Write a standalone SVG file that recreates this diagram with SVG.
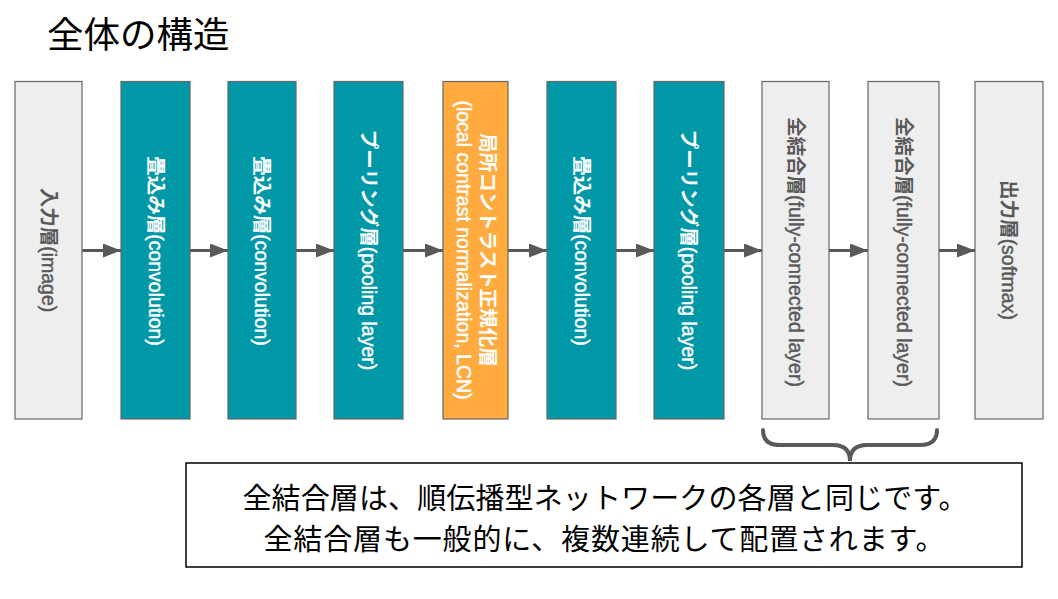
<svg xmlns="http://www.w3.org/2000/svg" width="1058" height="599" viewBox="0 0 1058 599">
<style>
.box{stroke:#666666;stroke-width:1.2}
.teal{fill:#0097A7}
.gray{fill:#EEEEEE}
.orange{fill:#FFAB40}
.lbl{font-family:"Liberation Sans","Noto Sans CJK JP",sans-serif;font-size:19.5px;text-anchor:middle;dominant-baseline:central;stroke-width:0.45}
.lbl .j{font-weight:bold;stroke:none}
.w{fill:#FFFFFF;stroke:#FFFFFF}
.g{fill:#595959;stroke:#595959}
.conn{stroke:#595959;stroke-width:3;fill:none}
.title{font-family:"Noto Sans CJK JP","Liberation Sans",sans-serif;font-size:36.5px;fill:#000000}
.note{font-family:"Noto Sans CJK JP","Liberation Sans",sans-serif;font-size:29px;fill:#000000;text-anchor:middle}
</style>
<defs>
<marker id="ah" markerUnits="userSpaceOnUse" markerWidth="20" markerHeight="16" refX="18" refY="7" orient="auto">
<path d="M0,0 L18,7 L0,14 Z" fill="#595959"/>
</marker>
</defs>
<rect width="1058" height="599" fill="#FFFFFF"/>
<text class="title" x="47" y="48">全体の構造</text>

<g id="connectors">
<line class="conn" x1="82" y1="250.5" x2="121" y2="250.5" marker-end="url(#ah)"/>
<line class="conn" x1="190" y1="250.5" x2="228" y2="250.5" marker-end="url(#ah)"/>
<line class="conn" x1="296" y1="250.5" x2="334" y2="250.5" marker-end="url(#ah)"/>
<line class="conn" x1="403" y1="250.5" x2="443" y2="250.5" marker-end="url(#ah)"/>
<line class="conn" x1="508" y1="250.5" x2="547" y2="250.5" marker-end="url(#ah)"/>
<line class="conn" x1="616" y1="250.5" x2="654" y2="250.5" marker-end="url(#ah)"/>
<line class="conn" x1="724" y1="250.5" x2="762" y2="250.5" marker-end="url(#ah)"/>
<line class="conn" x1="829" y1="250.5" x2="868" y2="250.5" marker-end="url(#ah)"/>
<line class="conn" x1="939" y1="250.5" x2="975" y2="250.5" marker-end="url(#ah)"/>
</g>

<g id="n1"><rect class="box gray" x="15" y="81.5" width="67" height="337.5"/>
<text class="lbl g" transform="translate(48.5,250) rotate(90)"><tspan class="j">入力層</tspan>(image)</text></g>
<g id="n2"><rect class="box teal" x="121" y="81.5" width="69" height="337.5"/>
<text class="lbl w" transform="translate(155.5,251) rotate(90)"><tspan class="j">畳込み層</tspan>(convolution)</text></g>
<g id="n3"><rect class="box teal" x="228" y="81.5" width="68" height="337.5"/>
<text class="lbl w" transform="translate(262,251) rotate(90)"><tspan class="j">畳込み層</tspan>(convolution)</text></g>
<g id="n4"><rect class="box teal" x="334" y="81.5" width="69" height="337.5"/>
<text class="lbl w" transform="translate(368.5,250) rotate(90)"><tspan class="j">プーリング層</tspan>(pooling layer)</text></g>
<g id="n5"><rect class="box orange" x="443" y="81.5" width="65" height="337.5"/>
<text class="lbl w" transform="translate(475.5,250) rotate(90)"><tspan class="j" x="0" y="-12">局所コントラスト正規化層</tspan><tspan x="0" y="12">(local contrast normalization, LCN)</tspan></text></g>
<g id="n6"><rect class="box teal" x="547" y="81.5" width="69" height="337.5"/>
<text class="lbl w" transform="translate(581.5,251) rotate(90)"><tspan class="j">畳込み層</tspan>(convolution)</text></g>
<g id="n7"><rect class="box teal" x="654" y="81.5" width="70" height="337.5"/>
<text class="lbl w" transform="translate(689,250) rotate(90)"><tspan class="j">プーリング層</tspan>(pooling layer)</text></g>
<g id="n8"><rect class="box gray" x="762" y="81.5" width="67" height="337.5"/>
<text class="lbl g" transform="translate(795.5,252) rotate(90)"><tspan class="j">全結合層</tspan>(fully-connected layer)</text></g>
<g id="n9"><rect class="box gray" x="868" y="81.5" width="71" height="337.5"/>
<text class="lbl g" transform="translate(903.5,252) rotate(90)"><tspan class="j">全結合層</tspan>(fully-connected layer)</text></g>
<g id="n10"><rect class="box gray" x="975" y="81.5" width="68" height="337.5"/>
<text class="lbl g" transform="translate(1009,250) rotate(90)"><tspan class="j">出力層</tspan>(softmax)</text></g>

<g id="brace">
<path d="M763,430 Q763,445 780,445 L833,445 Q850,445 850,461 Q850,445 867,445 L920,445 Q937,445 937,430" fill="none" stroke="#595959" stroke-width="4" stroke-linecap="round"/>
</g>

<g id="note">
<rect x="186" y="463" width="836" height="104" fill="#FFFFFF" stroke="#000000" stroke-width="1.5"/>
<text class="note" x="605" y="509" textLength="725" lengthAdjust="spacing">全結合層は、順伝播型ネットワークの各層と同じです。</text>
<text class="note" x="604" y="550" textLength="681" lengthAdjust="spacing">全結合層も一般的に、複数連続して配置されます。</text>
</g>
</svg>
